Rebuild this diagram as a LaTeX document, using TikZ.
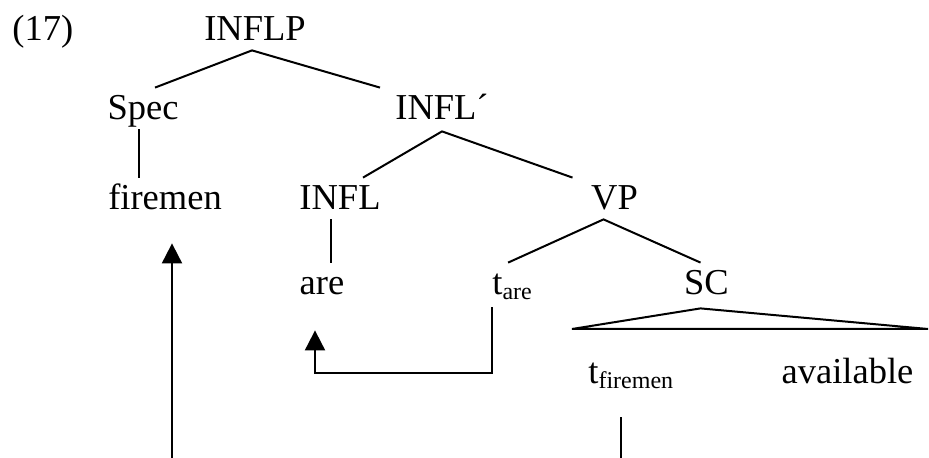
\documentclass[tikz,border=0pt]{standalone}
\usepackage{fontspec}
\setmainfont{Liberation Serif}
\usetikzlibrary{arrows.meta}
\newcommand{\trace}[1]{t\raisebox{-2.5pt}{\fontsize{12}{12}\selectfont #1}}
\definecolor{cb}{RGB}{0,0,0}
\tikzstyle{word}=[cb, inner xsep=0pt, inner ysep=1.5pt, text height=14.5pt, text depth=3pt, font=\fontsize{18.25}{20}\selectfont]
\tikzstyle{cat}=[word, anchor=base]
\tikzstyle{branch}=[cb, line width=1pt]
\tikzstyle{arrow}=[cb, line width=1pt, ->, >={Triangle[width=10pt,length=10pt]}]

\begin{document}
\begin{tikzpicture}[x=0.5pt, y=-0.5pt]
  \useasboundingbox (0,0) rectangle (929,458);
  \clip (0,0) rectangle (929,458);

  \node [word, anchor=base west] (ex) at (12,41) {(17)};
  \node [cat] (inflp) at (255,41) {INFLP};

  \node [cat] (spec) at (143,120) {Spec};
  \node [cat] (inflbar) at (442,120) {INFL´};

  \node [cat] (firemen) at (165,210) {firemen};
  \node [cat] (infl) at (340,210) {INFL};
  \node [cat] (vp) at (614.5,210) {VP};

  \node [cat] (are) at (322,295) {are};
  \node [word, anchor=base west] (tare) at (492,295) {\trace{are}};
  \node [cat] (sc) at (706.5,295) {SC};

  \node [word, anchor=base west] (tfir) at (588,383) {\trace{firemen}};
  \node [cat] (avail) at (847.5,383) {available};

  \coordinate (scl) at (572,329);
  \coordinate (scr) at (928,329);

  \draw [branch] ([xshift=6pt]spec.north) -- ([xshift=-1.5pt]inflp.south) -- ([xshift=-31pt]inflbar.north);
  \draw [branch] ([xshift=-2pt]spec.south) -- ([xshift=-13pt]firemen.north);
  \draw [branch] ([xshift=11.5pt]infl.north) -- ([yshift=-1pt]inflbar.south) -- ([xshift=-21pt]vp.north);
  \draw [branch] ([xshift=-4.5pt]infl.south) -- ([xshift=4.5pt]are.north);
  \draw [branch] ([xshift=-2pt]tare.north) -- ([xshift=-5.5pt]vp.south) -- ([xshift=-3pt]sc.north);
  \draw [branch] ([xshift=-3pt,yshift=-2pt]sc.south) -- (scl) -- (scr) -- cycle;

  \draw [arrow, shorten >=13pt] ([yshift=-1.5pt]tare.south west) -- ++(0,66) -| ([xshift=-3.5pt]are.south);
  \draw [arrow, shorten >=12pt] ([xshift=-5pt,yshift=-12.5pt]tfir.south) -- ++(0,90) -| ([xshift=3.5pt]firemen.south);
\end{tikzpicture}
\end{document}
